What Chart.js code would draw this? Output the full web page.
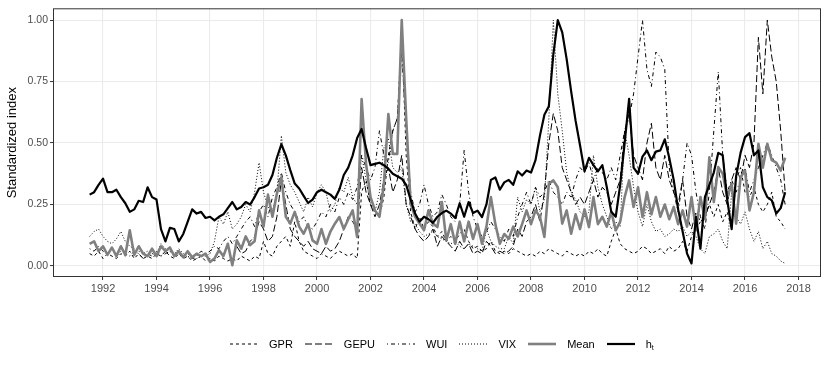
<!DOCTYPE html>
<html>
<head>
<meta charset="utf-8">
<script src="https://cdn.jsdelivr.net/npm/chart.js@4.4.1/dist/chart.umd.min.js"></script>
<style>
  html, body { margin: 0; padding: 0; background: #fff; }
  #wrap { position: relative; width: 830px; height: 369px; }
  #legend {
    position: absolute; left: 230px; top: 335px; height: 18px;
    display: flex; align-items: center;
    font-family: "Liberation Sans", Arial, sans-serif; font-size: 11px; color: #000;
  }
  #legend .item { display: flex; align-items: center; margin-right: 12px; }
  #legend svg { display: block; margin-right: 11px; }
  #legend sub { font-size: 7px; vertical-align: -2px; }
</style>
</head>
<body>
<div id="wrap">
  <canvas id="chart" width="830" height="369"></canvas>
  <div id="legend"></div>
</div>
<script>
// bimonthly observations, first one mid 1991
const startYear = 1991.5;
const stepYears = 1 / 6;

const tickYears = [1992, 1994, 1996, 1998, 2000, 2002, 2004, 2006, 2008, 2010, 2012, 2014, 2016, 2018];
const tickLabels = ['1992', '1994', '1996', '1998', '2000', '2002', '2004', '2006', '2008', '2010', '2012', '2014', '2016', '2018'];
const yTicks = [0, 0.25, 0.5, 0.75, 1];
const yLabels = ['0.00', '0.25', '0.50', '0.75', '1.00'];

const seriesNames = ['GPR', 'GEPU', 'WUI', 'VIX', 'Mean', 'h_t'];

const gpr = [
  0.05, 0.04, 0.06,
  0.03, 0.05, 0.04, 0.03, 0.05, 0.04,
  0.06, 0.03, 0.05, 0.03, 0.04, 0.03,
  0.05, 0.04, 0.06, 0.04, 0.03, 0.05,
  0.03, 0.04, 0.02, 0.03, 0.04, 0.02,
  0.03, 0.02, 0.04, 0.03, 0.02, 0.03,
  0.02, 0.04, 0.03, 0.02, 0.04, 0.03,
  0.10, 0.05, 0.04, 0.08, 0.10, 0.12,
  0.08, 0.18, 0.10, 0.06, 0.05, 0.04,
  0.03, 0.05, 0.04, 0.03, 0.05, 0.06,
  0.05, 0.04, 0.05, 0.03, 0.30, 0.35,
  0.25, 0.22, 0.20, 0.28, 0.45, 0.55,
  0.60, 0.95, 0.45, 0.22, 0.15, 0.20,
  0.15, 0.18, 0.16, 0.12, 0.14, 0.10,
  0.12, 0.10, 0.13, 0.15, 0.10, 0.07,
  0.08, 0.06, 0.07, 0.10, 0.06, 0.05,
  0.06, 0.05, 0.07, 0.06, 0.05, 0.04,
  0.05, 0.04, 0.06, 0.05, 0.07, 0.06,
  0.05, 0.04, 0.06, 0.05, 0.04, 0.05,
  0.04, 0.06, 0.05, 0.07, 0.05, 0.04,
  0.10, 0.15, 0.09, 0.07, 0.06, 0.05,
  0.06, 0.08, 0.07, 0.05, 0.06, 0.07,
  0.05, 0.08, 0.06, 0.07, 0.10, 0.06,
  0.12, 0.15, 0.18, 0.20, 0.25, 0.20,
  0.25, 0.18, 0.22, 0.15, 0.35, 0.40,
  0.30, 0.28, 0.32, 0.25, 0.22, 0.25,
  0.30, 0.20, 0.18, 0.15
];

const gepu = [
  null, null, null,
  null, null, null, null, null, null,
  null, null, null, null, null, null,
  null, null, null, null, null, null,
  null, null, null, null, null, null,
  null, null, null, null, null, null,
  0.08, 0.05, 0.06, 0.10, 0.12, 0.18,
  0.15, 0.10, 0.12, 0.20, 0.35, 0.25,
  0.15, 0.12, 0.10, 0.08, 0.10, 0.07,
  0.06, 0.05, 0.08, 0.06, 0.07, 0.10,
  0.15, 0.20, 0.18, 0.15, 0.40, 0.30,
  0.25, 0.20, 0.25, 0.35, 0.40, 0.30,
  0.35, 0.45, 0.25, 0.20, 0.15, 0.12,
  0.10, 0.12, 0.15, 0.08, 0.12, 0.10,
  0.08, 0.06, 0.10, 0.07, 0.09, 0.05,
  0.06, 0.05, 0.10, 0.08, 0.05, 0.06,
  0.05, 0.06, 0.08, 0.15, 0.12, 0.18,
  0.20, 0.25, 0.18, 0.30, 0.50, 0.62,
  0.55, 0.40, 0.35, 0.30, 0.25, 0.28,
  0.25, 0.30, 0.35, 0.28, 0.32, 0.30,
  0.25, 0.30, 0.35, 0.55, 0.62, 0.45,
  0.40, 0.35, 0.50, 0.58, 0.40, 0.35,
  0.45, 0.35, 0.30, 0.25, 0.35, 0.20,
  0.15, 0.22, 0.18, 0.20, 0.25, 0.30,
  0.40, 0.30, 0.25, 0.35, 0.40, 0.35,
  0.45, 0.40, 0.50, 0.93, 0.70, 1.00,
  0.85, 0.75, 0.55, 0.30
];

const wui = [
  0.07, 0.06, 0.08,
  0.06, 0.05, 0.07, 0.04, 0.06, 0.05,
  0.04, 0.06, 0.05, 0.03, 0.05, 0.04,
  0.06, 0.04, 0.05, 0.06, 0.04, 0.05,
  0.04, 0.05, 0.03, 0.04, 0.06, 0.05,
  0.06, 0.08, 0.07, 0.10, 0.12, 0.09,
  0.12, 0.15, 0.18, 0.20, 0.16, 0.22,
  0.25, 0.20, 0.28, 0.32, 0.38, 0.30,
  0.25, 0.22, 0.18, 0.20, 0.16, 0.15,
  0.18, 0.22, 0.20, 0.25, 0.22, 0.28,
  0.25, 0.30, 0.27, 0.32, 0.45, 0.40,
  0.35, 0.40, 0.55, 0.45, 0.42, 0.55,
  0.60, 0.87, 0.55, 0.30, 0.22, 0.25,
  0.33, 0.25, 0.20, 0.22, 0.29, 0.25,
  0.20, 0.18, 0.25, 0.47, 0.30, 0.20,
  0.15, 0.12, 0.14, 0.18, 0.15, 0.12,
  0.10, 0.15, 0.12, 0.20, 0.25, 0.30,
  0.25, 0.32, 0.28, 0.30, 0.35, 0.30,
  0.28, 0.25, 0.30, 0.28, 0.35, 0.40,
  0.38, 0.42, 0.35, 0.40, 0.38, 0.35,
  0.40, 0.35, 0.45, 0.55, 0.60, 0.70,
  0.85, 1.00, 0.80, 0.73, 0.87, 0.85,
  0.80, 0.40, 0.30, 0.22, 0.35, 0.50,
  0.45, 0.30, 0.20, 0.15, 0.30, 0.55,
  0.79, 0.45, 0.30, 0.35, 0.30, 0.35,
  0.40, 0.30, 0.35, 0.40, 0.45, 0.50,
  0.45, 0.40, 0.35, 0.25
];

const vix = [
  0.12, 0.14, 0.15,
  0.12, 0.10, 0.09, 0.11, 0.14, 0.10,
  0.08, 0.07, 0.06, 0.05, 0.06, 0.05,
  0.05, 0.09, 0.07, 0.06, 0.05, 0.07,
  0.05, 0.04, 0.03, 0.03, 0.04, 0.04,
  0.05, 0.10, 0.20, 0.17, 0.22, 0.15,
  0.17, 0.20, 0.25, 0.22, 0.30, 0.42,
  0.30, 0.24, 0.22, 0.30, 0.53, 0.38,
  0.33, 0.30, 0.26, 0.22, 0.28, 0.24,
  0.30, 0.33, 0.30, 0.22, 0.25, 0.32,
  0.30, 0.36, 0.28, 0.25, 0.45, 0.35,
  0.25, 0.22, 0.30, 0.48, 0.52, 0.40,
  0.38, 0.40, 0.25, 0.18, 0.17, 0.14,
  0.12, 0.13, 0.14, 0.12, 0.11, 0.10,
  0.09, 0.10, 0.08, 0.07, 0.09, 0.08,
  0.07, 0.06, 0.15, 0.10, 0.08, 0.07,
  0.07, 0.12, 0.09, 0.28, 0.22, 0.27,
  0.25, 0.32, 0.22, 0.27, 0.60, 1.00,
  0.70, 0.55, 0.38, 0.30, 0.27, 0.22,
  0.20, 0.22, 0.45, 0.32, 0.25, 0.20,
  0.15, 0.18, 0.16, 0.55, 0.45, 0.32,
  0.22, 0.16, 0.25, 0.18, 0.14, 0.15,
  0.12, 0.13, 0.15, 0.14, 0.16, 0.12,
  0.14, 0.12, 0.07, 0.05, 0.12, 0.13,
  0.15, 0.10, 0.07, 0.30, 0.20, 0.17,
  0.22, 0.15, 0.10, 0.14, 0.07, 0.10,
  0.05, 0.04, 0.02, 0.01
];

const meanIdx = [
  0.09, 0.10, 0.06,
  0.08, 0.045, 0.075, 0.04, 0.08, 0.045,
  0.145, 0.045, 0.08, 0.05, 0.04, 0.07,
  0.04, 0.08, 0.06, 0.075, 0.04, 0.06,
  0.035, 0.06, 0.035, 0.05, 0.04, 0.05,
  0.016, 0.03, 0.064, 0.04, 0.09, 0.003,
  0.104, 0.07, 0.12, 0.085, 0.10, 0.226,
  0.16, 0.29, 0.20, 0.294, 0.36, 0.20,
  0.172, 0.22, 0.16, 0.131, 0.17, 0.104,
  0.09, 0.15, 0.09, 0.14, 0.172, 0.199,
  0.15, 0.19, 0.226, 0.118, 0.679, 0.415,
  0.28, 0.226, 0.20, 0.334, 0.618, 0.456,
  0.456, 1.00, 0.60, 0.253, 0.20, 0.172,
  0.145, 0.226, 0.172, 0.158, 0.26, 0.104,
  0.17, 0.09, 0.18, 0.10, 0.18, 0.11,
  0.17, 0.09, 0.16, 0.28, 0.17, 0.09,
  0.13, 0.11, 0.16, 0.12, 0.17, 0.226,
  0.17, 0.226, 0.20, 0.118, 0.334, 0.348,
  0.32, 0.172, 0.226, 0.131, 0.21, 0.15,
  0.23, 0.158, 0.28, 0.17, 0.20, 0.16,
  0.22, 0.145, 0.18, 0.28, 0.348, 0.24,
  0.32, 0.199, 0.30, 0.21, 0.28, 0.20,
  0.25, 0.19, 0.24, 0.17, 0.226, 0.16,
  0.28, 0.145, 0.28, 0.19, 0.442, 0.26,
  0.402, 0.375, 0.28, 0.33, 0.172, 0.361,
  0.388, 0.226, 0.30, 0.497, 0.40, 0.497,
  0.43, 0.42, 0.388, 0.44
];

const ht = [
  0.29, 0.30, 0.33,
  0.355, 0.30, 0.30, 0.31, 0.28, 0.255,
  0.22, 0.23, 0.265, 0.26, 0.32, 0.28,
  0.27, 0.15, 0.10, 0.155, 0.15, 0.10,
  0.13, 0.18, 0.23, 0.213, 0.22, 0.195,
  0.20, 0.185, 0.20, 0.21, 0.235, 0.26,
  0.23, 0.24, 0.26, 0.25, 0.28, 0.315,
  0.32, 0.33, 0.37, 0.44, 0.495, 0.45,
  0.39, 0.335, 0.315, 0.285, 0.256, 0.27,
  0.30, 0.31, 0.30, 0.29, 0.273, 0.31,
  0.37, 0.40, 0.45, 0.52, 0.557, 0.48,
  0.41, 0.415, 0.42, 0.41, 0.395, 0.375,
  0.365, 0.355, 0.33, 0.27, 0.213, 0.18,
  0.20, 0.19, 0.175, 0.20, 0.215, 0.225,
  0.213, 0.195, 0.255, 0.20, 0.26, 0.215,
  0.225, 0.199, 0.25, 0.35, 0.36, 0.31,
  0.34, 0.35, 0.33, 0.385, 0.368, 0.388,
  0.38, 0.43, 0.53, 0.615, 0.65, 0.86,
  1.00, 0.95, 0.84, 0.71, 0.59, 0.49,
  0.385, 0.44, 0.41, 0.385, 0.41, 0.32,
  0.22, 0.20, 0.33, 0.50, 0.68, 0.40,
  0.375, 0.445, 0.47, 0.43, 0.465, 0.47,
  0.515, 0.44, 0.35, 0.23, 0.14, 0.05,
  0.01, 0.20, 0.07, 0.28, 0.33, 0.38,
  0.46, 0.45, 0.27, 0.15, 0.365, 0.46,
  0.524, 0.54, 0.45, 0.47, 0.32, 0.28,
  0.267, 0.213, 0.235, 0.30
];

const seriesValues = [gpr, gepu, wui, vix, meanIdx, ht];
const times = ht.map((_, i) => startYear + i * stepYears);

// line looks, ggplot style
const lineStyles = [
  { color: '#000', width: 1.0, dash: [3, 3] },
  { color: '#000', width: 1.0, dash: [7, 3] },
  { color: '#000', width: 1.0, dash: [1, 3, 4, 3] },
  { color: '#000', width: 1.0, dash: [1, 2] },
  { color: '#808080', width: 2.6, dash: [] },
  { color: '#000', width: 2.2, dash: [] }
];

const fontFamily = '"Liberation Sans", Arial, sans-serif';

const datasets = seriesValues.map((vals, k) => ({
  label: seriesNames[k],
  data: vals.map((v, i) => ({ x: times[i], y: v })),
  borderColor: lineStyles[k].color,
  borderWidth: lineStyles[k].width,
  borderDash: lineStyles[k].dash,
  pointRadius: 0,
  tension: 0,
  fill: false,
  spanGaps: false,
  order: seriesValues.length - 1 - k
}));

const panelBorder = {
  id: 'panelBorder',
  afterDatasetsDraw(chart) {
    const a = chart.chartArea;
    const c = chart.ctx;
    c.save();
    c.strokeStyle = '#333333';
    c.lineWidth = 1;
    c.setLineDash([]);
    c.strokeRect(a.left + 0.5, a.top + 0.5, a.right - a.left - 1, a.bottom - a.top - 1);
    c.restore();
  }
};

const ctx = document.getElementById('chart').getContext('2d');
new Chart(ctx, {
  type: 'line',
  data: { datasets: datasets },
  options: {
    responsive: false,
    animation: false,
    layout: { padding: { top: 7, right: 9, bottom: 72, left: 0 } },
    plugins: { legend: { display: false }, tooltip: { enabled: false } },
    elements: { line: { borderCapStyle: 'butt', borderJoinStyle: 'round' } },
    scales: {
      x: {
        type: 'linear',
        bounds: 'data',
        min: 1990.13,
        max: 2018.84,
        afterBuildTicks: s => { s.ticks = tickYears.map(v => ({ value: v })); },
        afterFit: s => { s.height = 20; },
        ticks: {
          autoSkip: false, maxRotation: 0, padding: 2,
          color: '#4d4d4d', font: { family: fontFamily, size: 11 },
          callback: (v, i) => tickLabels[i]
        },
        grid: { color: '#ebebeb', lineWidth: 1.1, tickLength: 3, tickColor: '#333333', tickWidth: 1 },
        border: { display: false }
      },
      y: {
        type: 'linear',
        bounds: 'data',
        min: -0.045,
        max: 1.048,
        afterBuildTicks: s => { s.ticks = yTicks.map(v => ({ value: v })); },
        afterFit: s => { s.width = 53; },
        ticks: {
          padding: 2,
          color: '#4d4d4d', font: { family: fontFamily, size: 10.5 },
          callback: (v, i) => yLabels[i]
        },
        grid: { color: '#ebebeb', lineWidth: 1.1, tickLength: 3, tickColor: '#333333', tickWidth: 1 },
        border: { display: false },
        title: {
          display: true, text: 'Standardized index', color: '#000',
          font: { family: fontFamily, size: 13 },
          padding: { top: 5, bottom: 0 }
        }
      }
    }
  },
  plugins: [panelBorder]
});

// legend drawn in html below the panel
const legend = document.getElementById('legend');
seriesNames.forEach((name, k) => {
  const st = lineStyles[k];
  const item = document.createElement('div');
  item.className = 'item';
  const dash = st.dash.length ? ' stroke-dasharray="' + st.dash.join(' ') + '"' : '';
  const text = name === 'h_t' ? 'h<sub>t</sub>' : name;
  item.innerHTML = '<svg width="28" height="10"><line x1="0" y1="5" x2="28" y2="5" stroke="' + st.color +
    '" stroke-width="' + Math.max(st.width, 1) + '"' + dash + '/></svg><span>' + text + '</span>';
  legend.appendChild(item);
});
</script>
</body>
</html>
